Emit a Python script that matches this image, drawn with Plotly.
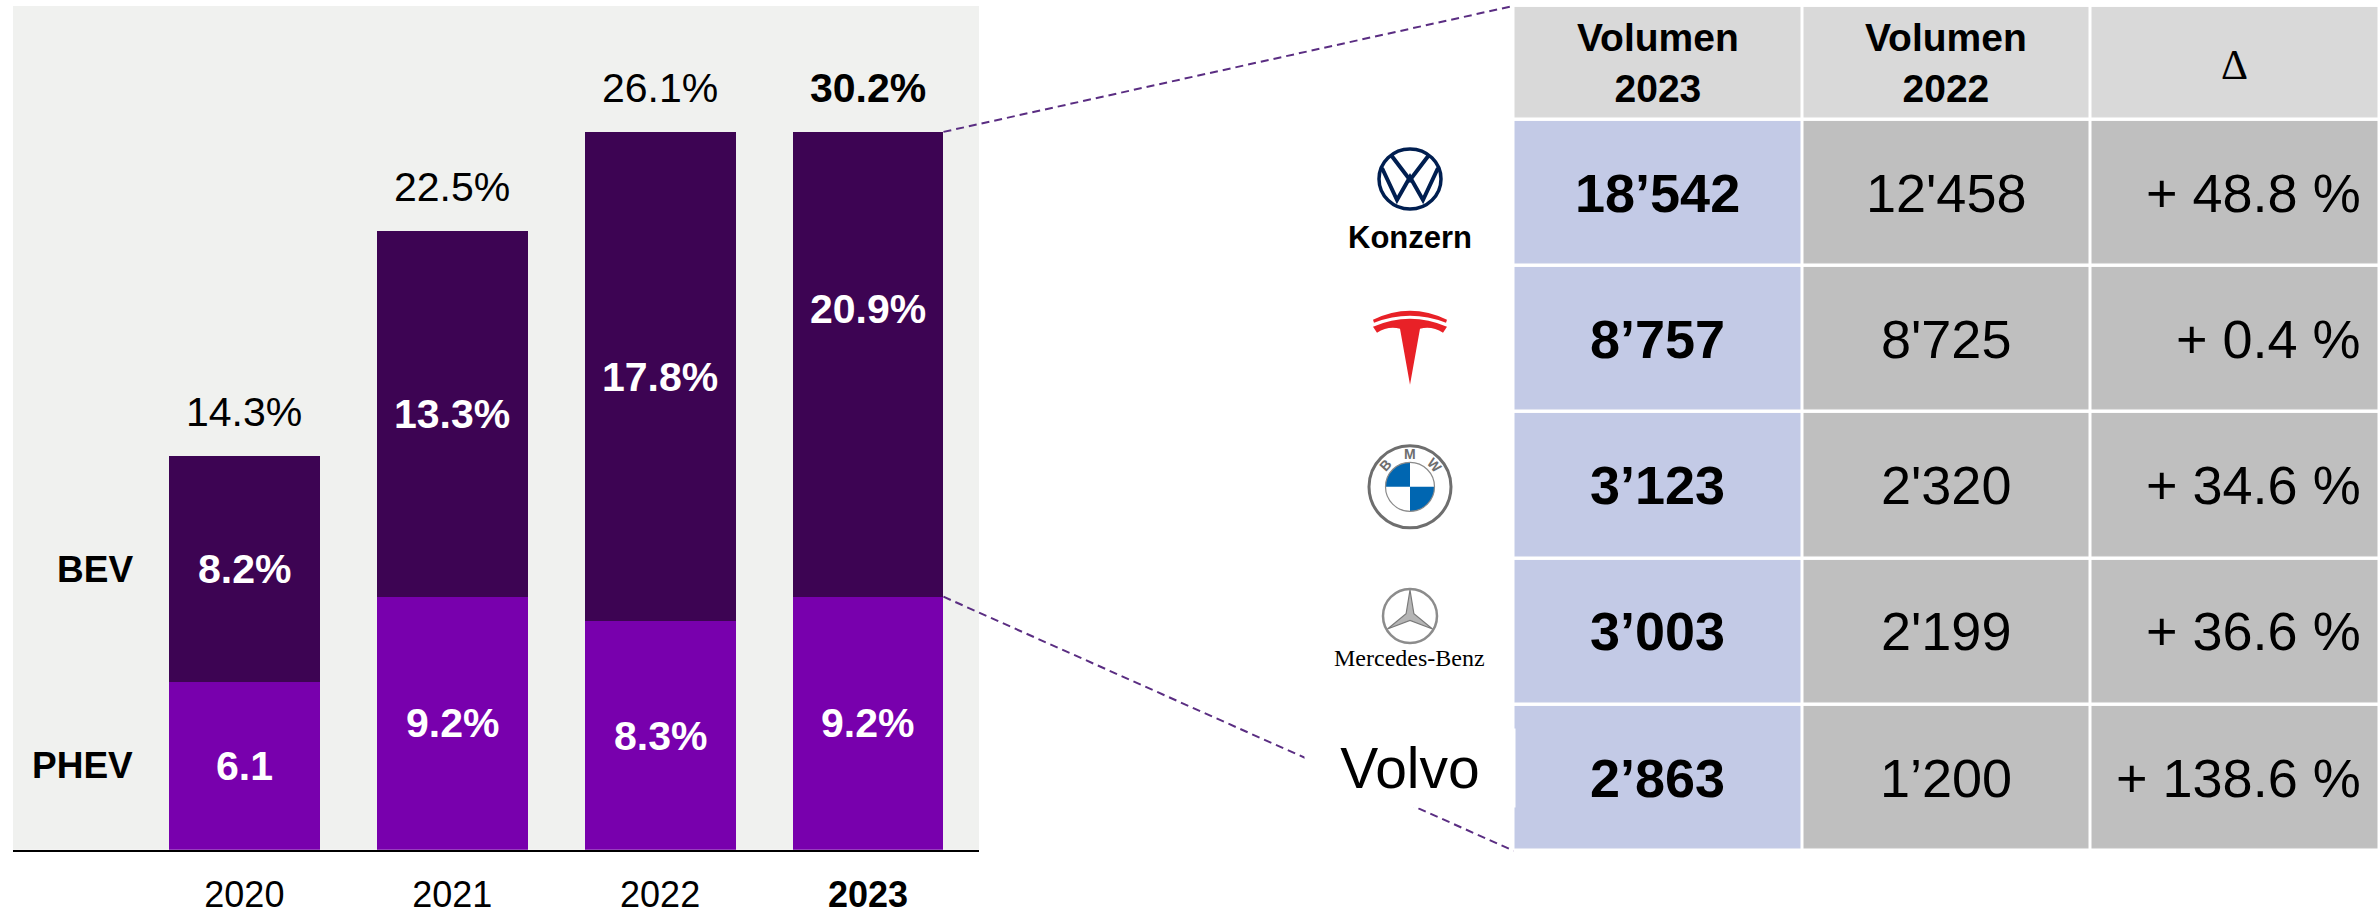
import math
import plotly.graph_objects as go

W, H = 2379, 915

# ---------------- data: left chart ----------------
years = ["2020", "2021", "2022", "2023"]
phev_share = [6.1, 9.2, 8.3, 9.2]
bev_share = [8.2, 13.3, 17.8, 20.9]
total_share = [14.3, 22.5, 26.1, 30.2]
# in the source picture the 2023 BEV bar is drawn shorter (same top as 2022)
bev_bar_height = [8.2, 13.3, 17.8, 16.9]
phev_labels = ["6.1", "9.2%", "8.3%", "9.2%"]
bev_labels = ["8.2%", "13.3%", "17.8%", "20.9%"]
total_labels = ["14.3%", "22.5%", "26.1%", "<b>30.2%</b>"]
year_labels = ["2020", "2021", "2022", "<b>2023</b>"]
segment_names = ["PHEV", "BEV"]

# ---------------- data: right table ----------------
brands = ["Konzern", "Tesla", "BMW", "Mercedes-Benz", "Volvo"]
volume_2023 = ["18’542", "8’757", "3’123", "3’003", "2’863"]
volume_2022 = ["12'458", "8'725", "2'320", "2'199", "1’200"]
delta_pct = ["+ 48.8 %", "+ 0.4 %", "+ 34.6 %", "+ 36.6 %", "+ 138.6 %"]
table_headers = ["<b>Volumen<br>2023</b>", "<b>Volumen<br>2022</b>", "Δ"]

# ---------------- style ----------------
BEV_C = "#3D0453"
PHEV_C = "#7800AD"
PANEL_C = "#F0F1EF"
COL1_C = "#C3CAE6"
GREY_C = "#BFBFBF"
HEAD_C = "#D9D9D9"
LINE_C = "#5A2D82"
SANS = "Liberation Sans, Arial, sans-serif"
SERIF = "Liberation Serif, Times New Roman, serif"

# left plot geometry
XDOM = [13 / W, 979 / W]
XR = [-1.113, 3.534]
YDOM = [1 - 862 / H, 1 - 6 / H]
YR = [0, 30.68]
BAR_W = 0.726

# table geometry
TXDOM = [1513.5 / W, 1.0]
TXR = [-0.5, 2.5]
TYDOM = [1 - 863 / H, 1 - 6 / H]
HEAD_H = 0.78
n_rows = len(brands)
y_edges = [0.0, HEAD_H] + [HEAD_H + i + 1 for i in range(n_rows)]
TYR = [y_edges[-1], 0]


def lx2p(x):
    return XDOM[0] + (x - XR[0]) / (XR[1] - XR[0]) * (XDOM[1] - XDOM[0])


def ly2p(y):
    return YDOM[0] + (y - YR[0]) / (YR[1] - YR[0]) * (YDOM[1] - YDOM[0])


def tx2p(x):
    return TXDOM[0] + (x - TXR[0]) / (TXR[1] - TXR[0]) * (TXDOM[1] - TXDOM[0])


def ty2p(y):
    return TYDOM[0] + (y - TYR[0]) / (TYR[1] - TYR[0]) * (TYDOM[1] - TYDOM[0])


fig = go.Figure()

fig.add_trace(go.Bar(x=years, y=phev_share, name=segment_names[0], width=BAR_W,
                     marker=dict(color=PHEV_C, line=dict(width=0)),
                     hoverinfo="skip", xaxis="x", yaxis="y"))
fig.add_trace(go.Bar(x=years, y=bev_bar_height, name=segment_names[1], width=BAR_W,
                     marker=dict(color=BEV_C, line=dict(width=0)),
                     hoverinfo="skip", xaxis="x", yaxis="y"))

# table cells as a heatmap with gaps
z = [[2, 2, 2]] + [[0, 1, 1] for _ in range(n_rows)]
fig.add_trace(go.Heatmap(
    x=[0, 1, 2], y=y_edges, z=z, zmin=0, zmax=2,
    colorscale=[[0, COL1_C], [0.5, GREY_C], [1, HEAD_C]],
    showscale=False, xgap=3, ygap=3.5, hoverinfo="skip",
    xaxis="x2", yaxis="y2"))

annotations = []
shapes = []

# panel background
shapes.append(dict(type="rect", xref="x domain", yref="y domain", x0=0, x1=1, y0=0, y1=1,
                   fillcolor=PANEL_C, line=dict(width=0), layer="below"))

# bar labels (category axis -> use category index)
for i, yr in enumerate(years):
    annotations.append(dict(x=i, y=phev_share[i] / 2, xref="x", yref="y",
                            text=f"<b>{phev_labels[i]}</b>", showarrow=False,
                            font=dict(family=SANS, size=41, color="white")))
    annotations.append(dict(x=i, y=phev_share[i] + bev_share[i] / 2, xref="x", yref="y",
                            text=f"<b>{bev_labels[i]}</b>", showarrow=False,
                            font=dict(family=SANS, size=41, color="white")))
    annotations.append(dict(x=i, y=phev_share[i] + bev_bar_height[i], xref="x", yref="y",
                            text=total_labels[i], showarrow=False, yshift=44,
                            font=dict(family=SANS, size=41, color="black")))

# segment names left of the first bar
name_x = lx2p(-BAR_W / 2 - 0.163)
annotations.append(dict(x=name_x, y=ly2p(phev_share[0] + bev_bar_height[0] / 2), xref="paper", yref="paper",
                        text=f"<b>{segment_names[1]}</b>", showarrow=False, xanchor="right", yanchor="middle",
                        font=dict(family=SANS, size=37, color="black")))
annotations.append(dict(x=name_x, y=ly2p(phev_share[0] / 2), xref="paper", yref="paper",
                        text=f"<b>{segment_names[0]}</b>", showarrow=False, xanchor="right", yanchor="middle",
                        font=dict(family=SANS, size=37, color="black")))

# dashed connector lines from the 2023 bar to the table
bar_right = lx2p(len(years) - 1 + BAR_W / 2)
shapes.append(dict(type="line", xref="paper", yref="paper",
                   x0=bar_right, y0=ly2p(phev_share[-1] + bev_bar_height[-1]),
                   x1=tx2p(TXR[0]), y1=ty2p(0),
                   line=dict(color=LINE_C, width=2, dash="8px,5px")))
shapes.append(dict(type="line", xref="paper", yref="paper",
                   x0=bar_right, y0=ly2p(phev_share[-1]),
                   x1=tx2p(TXR[0]), y1=ty2p(y_edges[-1]),
                   line=dict(color=LINE_C, width=2, dash="8px,5px")))

# table header
for j, h in enumerate(table_headers):
    if j < 2:
        annotations.append(dict(x=j, y=HEAD_H / 2, xref="x2", yref="y2", text=h, showarrow=False,
                                font=dict(family=SANS, size=39, color="black")))
    else:
        annotations.append(dict(x=j, y=HEAD_H / 2, xref="x2", yref="y2", text=h, showarrow=False,
                                yshift=-2, font=dict(family=SERIF, size=42, color="black")))

# table body
row_c = [HEAD_H + i + 0.5 for i in range(n_rows)]
for i in range(n_rows):
    annotations.append(dict(x=0, y=row_c[i], xref="x2", yref="y2", text=f"<b>{volume_2023[i]}</b>",
                            showarrow=False, font=dict(family=SANS, size=54, color="black")))
    annotations.append(dict(x=1, y=row_c[i], xref="x2", yref="y2", text=volume_2022[i],
                            showarrow=False, font=dict(family=SANS, size=54, color="black")))
    annotations.append(dict(x=2.5, y=row_c[i], xref="x2", yref="y2", text=delta_pct[i],
                            showarrow=False, xanchor="right", xshift=-16,
                            font=dict(family=SANS, size=54, color="black")))

# ---------------- brand logos (paper coords, left of the table) ----------------
logo_px = tx2p(TXR[0]) - 103.5 / W
row_py = [ty2p(c) for c in row_c]


def pth(pts, close=True):
    s = "M " + " L ".join(f"{x:.2f},{y:.2f}" for x, y in pts)
    return s + (" Z" if close else "")


def pix_shape(row, **kw):
    d = dict(xref="paper", yref="paper", xsizemode="pixel", ysizemode="pixel",
             xanchor=logo_px, yanchor=row_py[row])
    d.update(kw)
    return d


def brand_text(row, text, **kw):
    d = dict(x=logo_px, y=row_py[row], xref="paper", yref="paper", text=text, showarrow=False,
             xanchor="center", yanchor="middle")
    d.update(kw)
    return d


# VW
vw_dy = 14
NAVY = "#001E50"
shapes.append(pix_shape(0, type="circle", x0=-31, x1=31, y0=vw_dy - 30, y1=vw_dy + 30,
                        line=dict(color=NAVY, width=3.5)))
shapes.append(pix_shape(0, type="path", path=pth([(-19, vw_dy + 24), (0, vw_dy - 1), (19, vw_dy + 24)], False),
                        line=dict(color=NAVY, width=4)))
shapes.append(pix_shape(0, type="path",
                        path=pth([(-28, vw_dy + 11), (-13, vw_dy - 21), (0, vw_dy + 2), (13, vw_dy - 21), (28, vw_dy + 11)], False),
                        line=dict(color=NAVY, width=4)))
annotations.append(brand_text(0, f"<b>{brands[0]}</b>", yshift=-44,
                              font=dict(family=SANS, size=31, color="black")))

# Tesla
td = -5.5
RED = "#E82127"
shapes.append(pix_shape(1, type="path",
                        path=f"M -37,{18+td} Q 0,{34+td} 37,{18+td} L 33,{12+td} Q 22,{19+td} 10,{16+td} "
                             f"L 0,{-40+td} L -10,{16+td} Q -22,{19+td} -33,{12+td} Z",
                        fillcolor=RED, line=dict(width=0)))
shapes.append(pix_shape(1, type="path",
                        path=f"M -37,{25+td} Q 0,{43+td} 37,{25+td} L 36,{22+td} Q 0,{36+td} -36,{22+td} Z",
                        fillcolor=RED, line=dict(width=0)))

# BMW
bd = -1.5
BLUE = "#0066B1"
shapes.append(pix_shape(2, type="circle", x0=-41, x1=41, y0=bd - 41, y1=bd + 41,
                        line=dict(color="#6E6E6E", width=3), fillcolor="white"))


def quad(a0, a1, r, cy):
    pts = [(0, cy)]
    for k in range(0, 19):
        a = math.radians(a0 + (a1 - a0) * k / 18)
        pts.append((r * math.cos(a), cy + r * math.sin(a)))
    return pth(pts)


shapes.append(pix_shape(2, type="path", path=quad(90, 180, 24.5, bd), fillcolor=BLUE, line=dict(width=0)))
shapes.append(pix_shape(2, type="path", path=quad(270, 360, 24.5, bd), fillcolor=BLUE, line=dict(width=0)))
shapes.append(pix_shape(2, type="circle", x0=-24.5, x1=24.5, y0=bd - 24.5, y1=bd + 24.5,
                        line=dict(color="#8A8A8A", width=1.2)))
for letter, ang in zip(["B", "M", "W"], [138, 90, 42]):
    a = math.radians(ang)
    annotations.append(brand_text(2, f"<b>{letter}</b>", xshift=33 * math.cos(a), yshift=bd + 33 * math.sin(a),
                                  textangle=90 - ang, font=dict(family=SANS, size=14, color="#6E6E6E")))

# Mercedes-Benz
md = 15.5
shapes.append(pix_shape(3, type="circle", x0=-27, x1=27, y0=md - 27, y1=md + 27,
                        line=dict(color="#8C8C8C", width=2.5)))
star = []
for k in range(3):
    a = math.radians(90 + 120 * k)
    b = math.radians(90 + 120 * k + 60)
    star.append((26 * math.cos(a), md + 26 * math.sin(a)))
    star.append((4.5 * math.cos(b), md + 4.5 * math.sin(b)))
shapes.append(pix_shape(3, type="path", path=pth(star), fillcolor="#B5B5B5",
                        line=dict(color="#7A7A7A", width=1.2)))
annotations.append(brand_text(3, brands[3], yshift=-27, font=dict(family=SERIF, size=24, color="black")))

# Volvo (text with white box that interrupts the dashed line)
annotations.append(brand_text(4, brands[4], yshift=10, width=208, height=76, bgcolor="white",
                              font=dict(family=SANS, size=57, color="black")))

fig.update_layout(
    width=W, height=H, margin=dict(l=0, r=0, t=0, b=0),
    paper_bgcolor="white", plot_bgcolor="white",
    showlegend=False, barmode="stack",
    xaxis=dict(domain=XDOM, range=XR, type="category", tickmode="array",
               tickvals=years, ticktext=year_labels, ticks="", ticklabelstandoff=12,
               tickfont=dict(family=SANS, size=36, color="black"),
               showline=True, linecolor="black", linewidth=2, showgrid=False, zeroline=False,
               fixedrange=True),
    yaxis=dict(domain=YDOM, range=YR, visible=False, showgrid=False, zeroline=False, fixedrange=True),
    xaxis2=dict(domain=TXDOM, range=TXR, visible=False, anchor="y2", fixedrange=True),
    yaxis2=dict(domain=TYDOM, range=TYR, visible=False, anchor="x2", fixedrange=True),
    annotations=annotations,
    shapes=shapes,
)

# remove the default 8px page margin so the 2379x915 figure fills the window exactly
fig.write_html("out.html", config={"displayModeBar": False},
               post_script="document.body.style.margin='0';document.body.style.overflow='hidden';")
